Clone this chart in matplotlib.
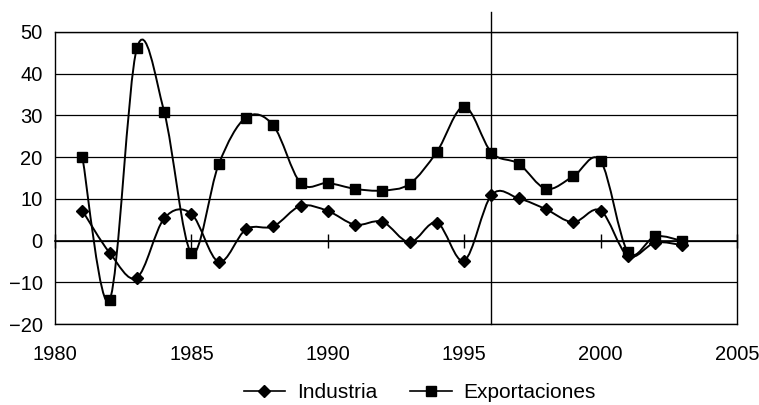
import matplotlib
matplotlib.use('Agg')
import matplotlib.pyplot as plt
from matplotlib.path import Path
from matplotlib.patches import PathPatch
from matplotlib.lines import Line2D
import numpy as np

plt.rcParams['font.family'] = ['Liberation Sans', 'DejaVu Sans']

years = list(range(1981, 2004))
industria = [7.2, -2.9, -8.9, 5.3, 6.4, -5.1, 2.7, 3.4, 8.3, 7.1, 3.8, 4.5, -0.4,
             4.3, -4.8, 10.9, 10.1, 7.5, 4.4, 7.2, -3.7, -0.5, -1.1]
exportaciones = [20.1, -14.3, 46.1, 30.9, -3.0, 18.3, 29.5, 27.6, 13.8, 13.8, 12.4, 12.0,
                 13.6, 21.3, 32.1, 21.1, 18.4, 12.4, 15.4, 19.1, -2.7, 1.0, -0.1]
xticks = [1980, 1985, 1990, 1995, 2000, 2005]
yticks = [-20, -10, 0, 10, 20, 30, 40, 50]
marker_year = 1996


def smooth_path(x, y):
    # Excel-like smoothed line: cubic bezier through every point
    x = np.asarray(x, float)
    y = np.asarray(y, float)
    pts = np.column_stack([x, y])
    n = len(pts)
    verts = [pts[0]]
    codes = [Path.MOVETO]
    for i in range(n - 1):
        p0 = pts[i - 1] if i > 0 else pts[i]
        p1 = pts[i]
        p2 = pts[i + 1]
        p3 = pts[i + 2] if i + 2 < n else pts[i + 1]
        c1 = p1 + (p2 - p0) / 6.0
        c2 = p2 - (p3 - p1) / 6.0
        verts += [c1, c2, p2]
        codes += [Path.CURVE4] * 3
    return Path(verts, codes)


fig = plt.figure(figsize=(7.59, 4.05), dpi=100)
ax = fig.add_axes([0.0725, 0.2, 0.8985, 0.721])

ax.set_xlim(1980, 2005)
ax.set_ylim(-20, 50)

for v in yticks:
    ax.axhline(v, color='black', lw=0.9, zorder=1)

for yy, mk, ms in [(industria, 'D', 6.5), (exportaciones, 's', 7)]:
    ax.add_patch(PathPatch(smooth_path(years, yy), fill=False, edgecolor='black', lw=1.4, zorder=3))
    ax.plot(years, yy, linestyle='none', marker=mk, markersize=ms, color='black', zorder=4)

# vertical reference line
ax.plot([marker_year, marker_year], [-20, 54.8], color='black', lw=1.0, clip_on=False, zorder=2)

# axis crossing at zero with crossing tick marks
secax = ax.secondary_xaxis(20 / 70)
secax.set_xticks(xticks)
secax.tick_params(direction='inout', length=10, width=1, labelbottom=False, labeltop=False)
secax.spines['bottom'].set_linewidth(1.2)

ax.set_xticks(xticks)
ax.set_yticks(yticks)
ax.set_yticklabels([str(v).replace('-', '\u2212') for v in yticks])
ax.tick_params(axis='x', length=0, pad=15, labelsize=14.5)
ax.tick_params(axis='y', length=0, pad=9, labelsize=14.5)
for s in ax.spines.values():
    s.set_linewidth(1.0)

handles = [Line2D([], [], color='black', lw=1.2, marker='D', markersize=6),
           Line2D([], [], color='black', lw=1.2, marker='s', markersize=6.5)]
fig.legend(handles, ['Industria', 'Exportaciones'], loc='center', bbox_to_anchor=(0.553, 0.03),
           ncol=2, frameon=False, fontsize=15, handlelength=2.0, handletextpad=0.55,
           columnspacing=1.6)

fig.savefig('out.png', dpi=100)
